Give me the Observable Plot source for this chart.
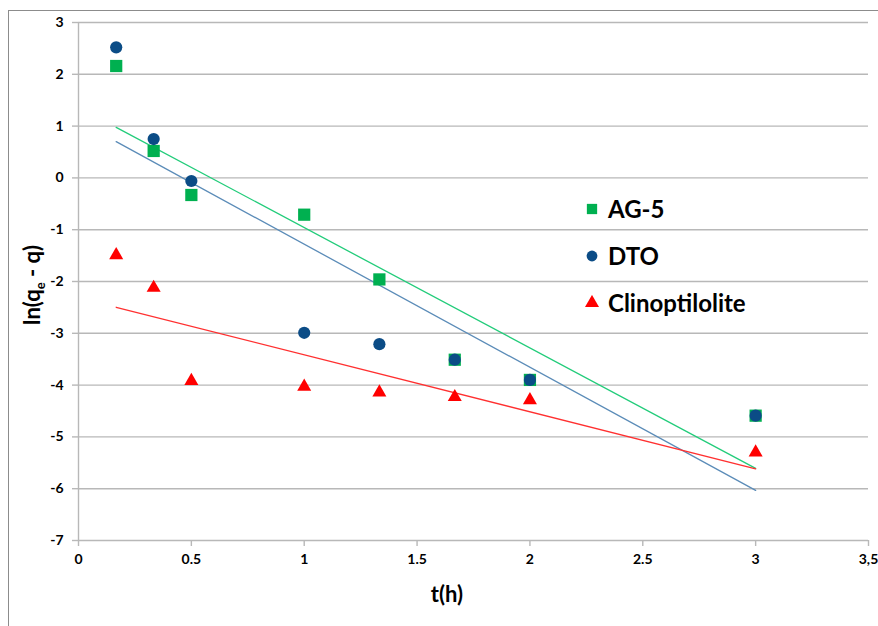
<!DOCTYPE html>
<html><head><meta charset="utf-8">
<script src="https://cdn.jsdelivr.net/npm/d3@7"></script>
<script src="https://cdn.jsdelivr.net/npm/@observablehq/plot@0.6"></script>
<style>
body{margin:0;background:#fff;overflow:hidden;font-family:Lato,sans-serif}
#wrap{position:relative;width:878px;height:626px;overflow:hidden}
#border{position:absolute;left:8px;top:10px;width:1000px;height:1000px;border:1px solid #8c8c8c;box-sizing:border-box;pointer-events:none}
#legend{position:absolute;left:584px;top:185px}
.row{display:flex;align-items:center;height:47px;font:bold 24px Lato,sans-serif;color:#000}
.row svg{width:24px;height:16px;margin-right:0px}
#chart{position:absolute;left:0;top:0}
</style></head>
<body><div id="wrap"><div id="chart"></div><div id="border"></div><div id="legend"></div></div>
<script>
const seriesNames = ["AG-5", "DTO", "Clinoptilolite"];
const seriesColors = ["#00B050", "#0B4C86", "#FF0000"];
const trendColors = ["#22CC7A", "#5B8CB8", "#FF3030"];
const seriesSymbols = ["square", "circle", "triangle"];
const tHours = [0.167, 0.333, 0.5, 1, 1.333, 1.667, 2, 3];
const ag5 = [2.16, 0.52, -0.33, -0.71, -1.96, -3.51, -3.90, -4.59];
const dto = [2.52, 0.75, -0.06, -2.99, -3.21, -3.51, -3.90, -4.59];
const clino = [-1.49, -2.12, -3.92, -4.03, -4.14, -4.23, -4.29, -5.30];
const xTicks = [0, 0.5, 1, 1.5, 2, 2.5, 3, 3.5];
const xTickLabels = ["0", "0.5", "1", "1.5", "2", "2.5", "3", "3,5"];
const yTicks = [-7, -6, -5, -4, -3, -2, -1, 0, 1, 2, 3];

const seriesValues = [ag5, dto, clino];
const tables = seriesValues.map((vals, s) => tHours.map((t, i) => ({t, v: vals[i], s: seriesNames[s]})));
const radii = [6.9, 6.1, 5.2];

const grid = "#b8b8b8";
const plot = Plot.plot({
  width: 878, height: 626,
  marginLeft: 78, marginRight: 10, marginTop: 22, marginBottom: 86,
  style: {fontFamily: "Lato, sans-serif", background: "transparent"},
  x: {domain: [0, 3.5]},
  y: {domain: [-7, 3]},
  marks: [
    Plot.gridY(yTicks, {stroke: grid, strokeOpacity: 1, strokeWidth: 1.4}),
    Plot.ruleX([0], {stroke: grid, strokeWidth: 1.4}),
    Plot.axisX(xTicks, {tickSize: 6, stroke: grid, strokeWidth: 1.4, tickFormat: () => "", label: null}),
    Plot.axisX(xTicks, {tickSize: 0, tickPadding: 14, tickFormat: d => xTickLabels[xTicks.indexOf(d)], fontSize: 14, fontWeight: "bold", fill: "#000", label: null}),
    Plot.axisY(yTicks, {tickSize: 6, stroke: grid, strokeWidth: 1.4, tickFormat: () => "", label: null}),
    Plot.axisY(yTicks, {tickSize: 0, tickPadding: 15, tickFormat: d => String(d), fontSize: 14, fontWeight: "bold", fill: "#000", label: null}),
    ...tables.map((tb, s) => Plot.linearRegressionY(tb, {x: "t", y: "v", stroke: trendColors[s], strokeWidth: 1.3, ci: 0})),
    ...tables.map((tb, s) => Plot.dot(tb, {x: "t", y: "v", symbol: seriesSymbols[s], r: radii[s], fill: seriesColors[s], stroke: "none"}))
  ]
});
document.getElementById("chart").appendChild(plot);

// axis titles
const svg = d3.select(plot);
const yl = svg.append("text")
  .attr("transform", "translate(40,285) rotate(-90)")
  .attr("text-anchor", "middle")
  .attr("font-size", 22).attr("font-weight", "bold").attr("fill", "#000")
  .attr("font-family", "Lato, sans-serif");
yl.append("tspan").text("ln(q");
yl.append("tspan").attr("font-size", 13).attr("dy", 5).text("e");
yl.append("tspan").attr("dy", -5).text(" - q)");
svg.append("text")
  .attr("x", 447).attr("y", 602)
  .attr("text-anchor", "middle")
  .attr("font-size", 22).attr("font-weight", "bold").attr("fill", "#000")
  .attr("font-family", "Lato, sans-serif")
  .text("t(h)");

// legend
const legend = d3.select("#legend");
seriesNames.forEach((name, s) => {
  const row = legend.append("div").attr("class", "row");
  const sv = row.append("svg").attr("viewBox", "-8 -8 24 16");
  sv.append("path").attr("d", d3.symbol(
    {square: d3.symbolSquare, circle: d3.symbolCircle, triangle: d3.symbolTriangle}[seriesSymbols[s]],
    Math.PI * (s === 0 ? 5.8 : s === 1 ? 5.4 : 5.2) ** 2)())
    .attr("fill", seriesColors[s]);
  row.append("span").text(name);
});
</script>
</body></html>
